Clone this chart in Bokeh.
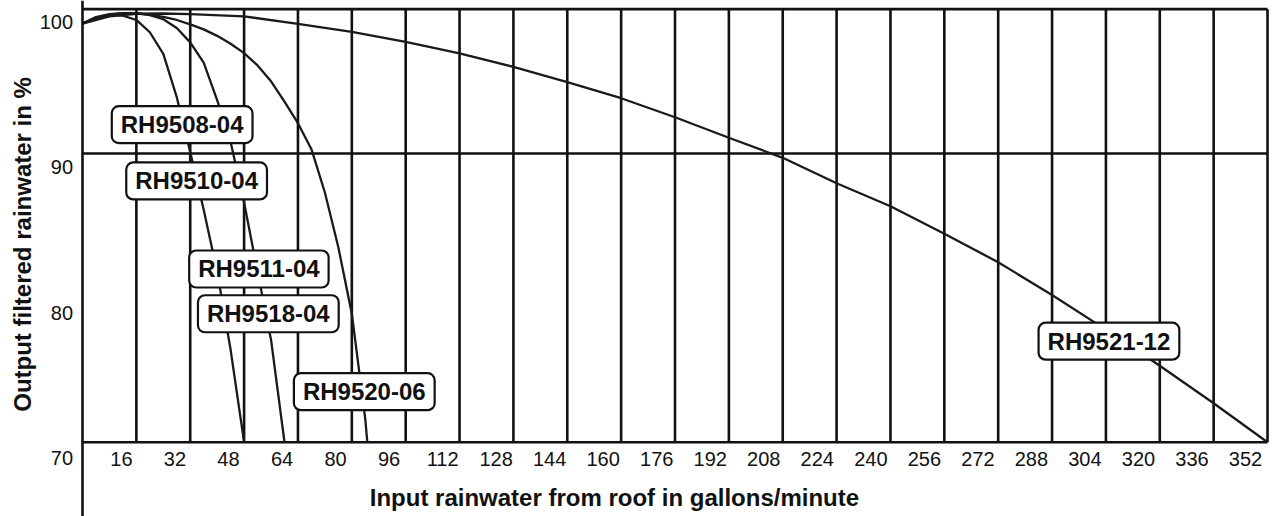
import math
from bokeh.plotting import figure
from bokeh.models import Range1d, Span, Label, Grid
from bokeh.core.properties import value
from bokeh.embed import file_html
from bokeh.resources import INLINE

# ---------------- data ----------------
x_ticks = [16, 32, 48, 64, 80, 96, 112, 128, 144, 160, 176, 192, 208, 224,
           240, 256, 272, 288, 304, 320, 336, 352]
y_ticks = [100, 90, 80, 70]
x_title = "Input rainwater from roof in gallons/minute"
y_title = "Output filtered rainwater in %"

# curve shared by RH9508-04 / RH9510-04
c1_x = [0, 4, 8, 12, 16, 20, 24, 28, 32, 36, 40, 44, 48]
c1_y = [99.0, 99.4, 99.6, 99.55, 99.25, 98.4, 96.9, 93.9, 90.1, 86.1, 81.8, 76.4, 70.0]

# curve shared by RH9511-04 / RH9518-04
c2_x = [0, 4, 8, 12, 16, 20, 24, 28, 32, 36, 40, 44, 48, 52, 56, 60]
c2_y = [99.0, 99.45, 99.65, 99.72, 99.7, 99.58, 99.3, 98.7, 97.7, 96.3, 93.7, 90.8, 86.6, 81.8, 77.1, 70.0]

# RH9520-06
c3_x = [0, 4, 8, 12, 16, 20, 24, 28, 32, 36, 40, 44, 48, 52, 56, 60, 64, 68, 72, 76, 80, 84, 84.6]
c3_y = [99.0, 99.4, 99.62, 99.72, 99.72, 99.62, 99.46, 99.25, 98.95, 98.6, 98.15, 97.6, 96.95,
        96.1, 95.0, 93.6, 92.1, 90.3, 87.3, 83.5, 78.9, 71.6, 70.0]

# RH9521-12
c4_x = [0, 8, 16, 24, 32, 48, 64, 80, 96, 112, 128, 144, 160, 176, 192, 208, 224,
        240, 256, 272, 288, 304, 320, 336, 352]
c4_y = [99.0, 99.5, 99.68, 99.7, 99.65, 99.5, 98.98, 98.42, 97.73, 96.93, 96.0, 94.94,
        93.83, 92.51, 91.09, 89.7, 87.94, 86.35, 84.44, 82.47, 80.2, 77.8, 75.3, 72.7, 70.0]

curve_names = ["RH9508-04", "RH9510-04", "RH9511-04", "RH9518-04", "RH9520-06", "RH9521-12"]
# label anchors (data coordinates of the callout centres)
label_x = [29.6, 33.9, 52.4, 55.2, 83.7, 304.9]
label_y = [92.0, 88.1, 82.0, 78.9, 73.5, 77.0]

# ---------------- figure ----------------
INK = "#111111"
FONT = "Liberation Sans"

p = figure(width=1276, height=516,
           x_range=Range1d(-24.357, 354.67), y_range=Range1d(64.853, 100.599),
           x_axis_location=None, y_axis_location=None,
           toolbar_location=None, output_backend="svg",
           min_border_left=0, min_border_right=0, min_border_top=0, min_border_bottom=0)
p.title.visible = False
p.outline_line_color = None
p.background_fill_color = "white"
p.border_fill_color = "white"
for g in p.select(Grid):
    g.visible = False

# frame / grid lines
p.add_layout(Span(location=0, dimension="height", line_color=INK, line_width=2.6))
p.segment(x0=x_ticks, y0=[70] * len(x_ticks), x1=x_ticks, y1=[100] * len(x_ticks),
          line_color=INK, line_width=2.6)
p.segment(x0=[0, 0, 0], y0=[100, 90, 70], x1=[352, 352, 352], y1=[100, 90, 70],
          line_color=INK, line_width=2.6)

# curves
for cx, cy in [(c1_x, c1_y), (c2_x, c2_y), (c3_x, c3_y), (c4_x, c4_y)]:
    p.line(cx, cy, line_color="#1a1a1a", line_width=2.3)

# x tick labels (set slightly left of their grid lines, as in the original)
x_offs = [-(14.6 + 0.021 * v) for v in x_ticks]
p.text(x=x_ticks, y=[70] * len(x_ticks), text=[str(v) for v in x_ticks],
       x_offset=x_offs, y_offset=16.5, text_align="center", text_baseline="middle",
       text_font=value(FONT), text_font_size="20px", text_color=INK)

# x title
p.text(x=[158], y=[70], text=[x_title], y_offset=55, text_align="center",
       text_baseline="middle", text_font=value(FONT), text_font_size="24px",
       text_font_style="bold", text_color=INK)

# y tick labels
p.text(x=[0] * len(y_ticks), y=y_ticks, text=[str(v) for v in y_ticks],
       x_offset=-9.5, y_offset=[13 + 0.087 * (100 - v) for v in y_ticks],
       text_align="right", text_baseline="middle",
       text_font=value(FONT), text_font_size="20px", text_color=INK)

# y title
p.text(x=[0], y=[83.7], text=[y_title], x_offset=-59.5, angle=math.pi / 2,
       text_align="center", text_baseline="middle",
       text_font=value(FONT), text_font_size="24px", text_font_style="bold",
       text_color=INK)

# callouts
for name, lx, ly in zip(curve_names, label_x, label_y):
    p.add_layout(Label(x=lx, y=ly, text=name, text_align="center", text_baseline="middle",
                       text_font=FONT, text_font_size="24px", text_font_style="bold",
                       text_color=INK, background_fill_color="white",
                       border_line_color=INK, border_line_width=2.2, border_radius=7,
                       padding=dict(left=9, right=9, top=5, bottom=5)))

open("out.html", "w").write(file_html(p, INLINE))
